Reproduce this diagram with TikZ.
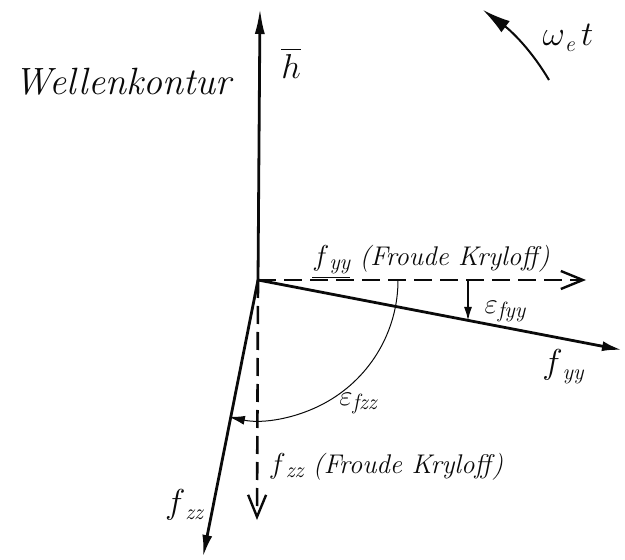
\documentclass[tikz,border=0pt]{standalone}
\usepackage{amsmath,amssymb}
\usepackage{xcolor}
\usetikzlibrary{calc,arrows.meta}
\definecolor{inkblack}{RGB}{10,10,10}

% handwritten-like subscript, bigger than a math subscript
\newcommand{\hsub}[1]{\raisebox{-0.35ex}{\fontsize{11}{13}\selectfont\itshape #1}}

\tikzset{
    vec/.style={inkblack, line width=1.4pt},
    fkvec/.style={inkblack, line width=1.3pt, dash pattern=on 9pt off 4pt},
    thinarc/.style={inkblack, line width=0.5pt},
    hand/.style={text=inkblack, inner sep=0pt, font=\fontsize{13.5}{16}\selectfont\itshape},
    bighand/.style={text=inkblack, inner sep=0pt, font=\fontsize{19}{22}\selectfont\itshape}
}

\begin{document}
\begin{tikzpicture}[x=0.5pt,y=-0.5pt]
    \useasboundingbox (0,0) rectangle (625,560);

    % origin and vector tips
    \coordinate (O) at (258,280);
    \coordinate (hTip) at (260,8);
    \coordinate (fyyFK) at (586,280);
    \coordinate (fyyTip) at (622,350);
    \coordinate (fzzFK) at (257,520);
    \coordinate (fzzTip) at (203,557);

    % wave normal
    \draw[vec, -{Latex[length=13pt,width=5pt]}] (O) -- (hTip);

    % Froude-Kryloff components (dashed)
    \draw[fkvec, -{Straight Barb[length=11pt,width=9pt,line width=1.2pt]}] (O) -- (fyyFK);
    \draw[fkvec, -{Straight Barb[length=11pt,width=9pt,line width=1.2pt]}] (O) -- (fzzFK);

    % total forces
    \draw[vec, -{Latex[length=10pt,width=5pt]}] (O) -- (fyyTip);
    \draw[vec, -{Latex[length=11pt,width=5pt]}] (O) -- (fzzTip);

    % phase angles
    \coordinate (epsTop) at (468,280);
    \coordinate (epsBot) at (468,321);
    \draw[vec, line width=1pt, -{Latex[length=7pt,width=4pt]}] (epsTop) -- (epsBot);
    \coordinate (arcStart) at ($(O)+(140,0)$);
    \draw[thinarc, -{Latex[length=8pt,width=4.5pt]}] (arcStart) arc[start angle=0, end angle=102, radius=140];

    % rotation sense
    \coordinate (rotStart) at (549,80);
    \coordinate (rotEnd) at (483,10);
    \draw[vec, line width=1pt, -{Latex[length=14pt,width=7pt]}] (rotStart) .. controls (530,48) and (510,30) .. (rotEnd);

    % labels
    \node[bighand] (wave) at (123,82) {Wellenkontur};
    \node[bighand] (hlab) at (291,63) {$\overline{h}$};
    \node[bighand] (omega) at (568,38) {$\omega$\hsub{e}\,$t$};
    \node[hand] (fyyFKlab) at (431,262) {\underline{$f$\hsub{yy}} (Froude Kryloff)};
    \node[hand] (epsyy) at (505,312) {$\varepsilon$\hsub{fyy}};
    \node[bighand] (fyylab) at (563,367) {$f$\hsub{yy}};
    \node[hand] (epszz) at (358,404) {$\varepsilon$\hsub{fzz}};
    \node[hand] (fzzFKlab) at (386,467) {$f$\hsub{zz} (Froude Kryloff)};
    \node[bighand] (fzzlab) at (184,505) {$f$\hsub{zz}};
\end{tikzpicture}
\end{document}
